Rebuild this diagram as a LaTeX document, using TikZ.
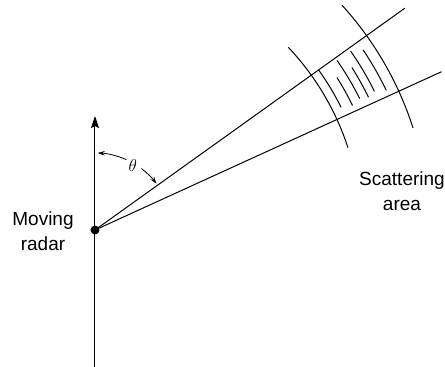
\documentclass[tikz,border=0pt]{standalone}
\usepackage{fontspec}
\setmainfont{Liberation Sans}
\usetikzlibrary{arrows.meta}
\begin{document}
\begin{tikzpicture}[x=1pt,y=1pt,
  ln/.style={line width=1pt, black},
  lbl/.style={font=\fontsize{19}{25.5}\selectfont, align=center, inner sep=0pt, anchor=north},
  hatch/.style={line width=1pt}]
\useasboundingbox (-95,-137) rectangle (350,230);
% radar
\coordinate (bottom) at (0,-137);
\coordinate (top) at (0,114);
\node[circle, fill=black, inner sep=0pt, minimum size=9pt] (radar) at (0,0) {};
\draw[ln, -{Stealth[length=12pt,width=8pt,inset=2pt]}] (bottom) -- (top);
% beam lines
\coordinate (u) at (35.6:381);
\coordinate (l) at (24.55:381);
\draw[ln] (radar.center) -- (u);
\draw[ln] (radar.center) -- (l);
% range arcs
\draw[ln] (43.4:266) arc[start angle=43.4, end angle=18, radius=266];
\draw[ln] (42.3:334) arc[start angle=42.3, end angle=17.8, radius=334];
% hatching
\foreach \r/\a/\b in {275/35.5/26.5, 286/32.2/25.8, 295.5/35/26.4, 304/32.3/25.9, 312/35/26.4, 323/33.9/25.6}
  \draw[hatch] (\a:\r) arc[start angle=\a, end angle=\b, radius=\r];
% angle
\node[inner sep=0pt, font=\fontsize{19}{22}\selectfont] (th) at (59.7:75) {$\theta$};
\draw[ln, line width=0.8pt, -{Stealth[length=7pt,width=4.5pt]}] (66:77) arc[start angle=66, end angle=88, radius=77];
\draw[ln, line width=0.8pt, -{Stealth[length=7pt,width=4.5pt]}] (53:77) arc[start angle=53, end angle=37, radius=77];
% labels
\node[lbl] (mr) at (-52,18.7) {Moving\\radar};
\node[lbl] (sa) at (307,58.7) {Scattering\\area};
\end{tikzpicture}
\end{document}
